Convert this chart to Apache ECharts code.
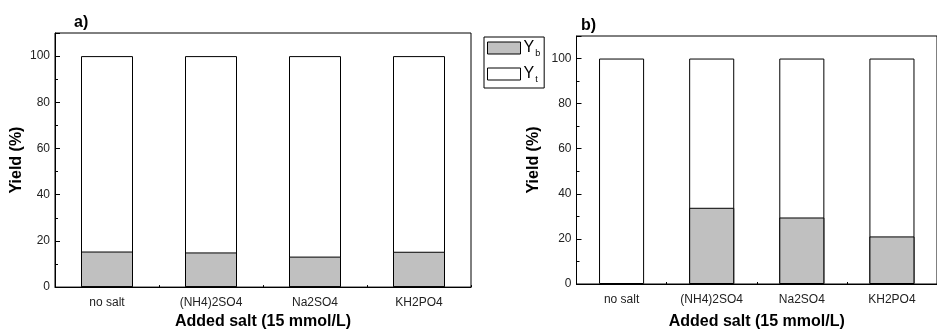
<!DOCTYPE html>
<html>
<head>
<meta charset="utf-8">
<script src="https://cdn.jsdelivr.net/npm/echarts@6/dist/echarts.min.js"></script>
<style>
html,body{margin:0;padding:0;background:#fff;}
#chart{width:937px;height:335px;}
</style>
</head>
<body>
<div id="chart"></div>
<script>
// ---- data ----
const categories = ['no salt', '(NH4)2SO4', 'Na2SO4', 'KH2PO4'];
const ybA = [15.4, 15.0, 13.2, 15.3];
const ytA = [100, 100, 100, 100];
const ybB = [null, 33.8, 29.5, 21.1];
const ytB = [100, 100, 100, 100];
const yTicksMax = 110;
const yInterval = 20;
const xTitle = 'Added salt (15 mmol/L)';
const yTitle = 'Yield (%)';

const FONT = 'Arial, "Liberation Sans", sans-serif';
const chart = echarts.init(document.getElementById('chart'), null, {renderer: 'canvas'});

function yAxis(gi, nameGap) {
  return {
    type: 'value', gridIndex: gi, min: 0, max: yTicksMax, interval: yInterval,
    name: yTitle, nameLocation: 'middle', nameGap: nameGap,
    nameTextStyle: {fontFamily: FONT, fontSize: 16, fontWeight: 'bold', color: '#000'},
    axisLine: {show: true, lineStyle: {color: '#000', width: 1}},
    axisTick: {show: true, inside: true, length: 5, lineStyle: {color: '#000'}},
    minorTick: {show: true, splitNumber: 2, length: 3, lineStyle: {color: '#000'}},
    axisLabel: {fontFamily: FONT, fontSize: 12, color: '#222', margin: 5, showMaxLabel: false},
    splitLine: {show: false}
  };
}
function xAxisMain(gi, nameGap) {
  return {
    type: 'category', gridIndex: gi, data: categories, boundaryGap: true, position: 'bottom',
    name: xTitle, nameLocation: 'middle', nameGap: nameGap,
    nameTextStyle: {fontFamily: FONT, fontSize: 16, fontWeight: 'bold', color: '#000'},
    axisLine: {show: true, lineStyle: {color: '#000', width: 1}},
    axisTick: {show: true, inside: true, length: 2, lineStyle: {color: '#000'}},
    axisLabel: {fontFamily: FONT, fontSize: 12, color: '#222', margin: 10},
    splitLine: {show: false}
  };
}
function xAxisTicks(gi) {
  return {
    type: 'category', gridIndex: gi, data: categories, boundaryGap: true, position: 'bottom',
    axisLine: {show: false},
    axisTick: {show: true, inside: true, alignWithLabel: true, length: 4, lineStyle: {color: '#000'}},
    axisLabel: {show: false}, splitLine: {show: false}
  };
}
function bars(name, data, xi, yi, color) {
  return {
    name: name, type: 'bar', xAxisIndex: xi, yAxisIndex: yi, data: data,
    barWidth: '50%', barGap: '-100%', silent: true, animation: false,
    itemStyle: {color: color, borderColor: '#000', borderWidth: 1}
  };
}

const option = {
  animation: false,
  backgroundColor: '#fff',
  title: [
    {text: 'a)', left: 69, top: 10, textStyle: {fontFamily: FONT, fontSize: 16, fontWeight: 'bold', color: '#000'}},
    {text: 'b)', left: 576, top: 13, textStyle: {fontFamily: FONT, fontSize: 16, fontWeight: 'bold', color: '#000'}}
  ],
  grid: [
    {left: 55, top: 33, width: 416, height: 260, show: true, borderColor: '#000', borderWidth: 1, backgroundColor: 'transparent'},
    {left: 576.5, top: 36, width: 368, height: 257, show: true, borderColor: '#000', borderWidth: 1, backgroundColor: 'transparent'}
  ],
  legend: {
    orient: 'vertical', left: 484, top: 37,
    data: [
      {name: 'Yb', itemStyle: {color: '#c0c0c0', borderColor: '#000', borderWidth: 1}},
      {name: 'Yt', itemStyle: {color: '#fff', borderColor: '#000', borderWidth: 1}}
    ],
    icon: 'rect', itemWidth: 33, itemHeight: 12, itemGap: 8,
    padding: [3, 4, 4, 3],
    borderColor: '#000', borderWidth: 1, backgroundColor: '#fff',
    formatter: function (n) { return '{y|Y}{s|' + (n === 'Yb' ? 'b' : 't') + '}'; },
    textStyle: {
      fontFamily: FONT, color: '#000', padding: [0, 0, 0, -2],
      rich: {
        y: {fontFamily: FONT, fontSize: 16, color: '#000'},
        s: {fontFamily: FONT, fontSize: 9, color: '#000', padding: [11, 0, 0, 1]}
      }
    }
  },
  xAxis: [xAxisMain(0, 24), xAxisTicks(0), xAxisMain(1, 30), xAxisTicks(1)],
  yAxis: [yAxis(0, 30), yAxis(1, 35)],
  series: [
    bars('Yt', ytA, 0, 0, '#fff'),
    bars('Yb', ybA, 0, 0, '#c0c0c0'),
    bars('Yt', ytB, 2, 1, '#fff'),
    bars('Yb', ybB, 2, 1, '#c0c0c0')
  ]
};
chart.setOption(option);
</script>
</body>
</html>
